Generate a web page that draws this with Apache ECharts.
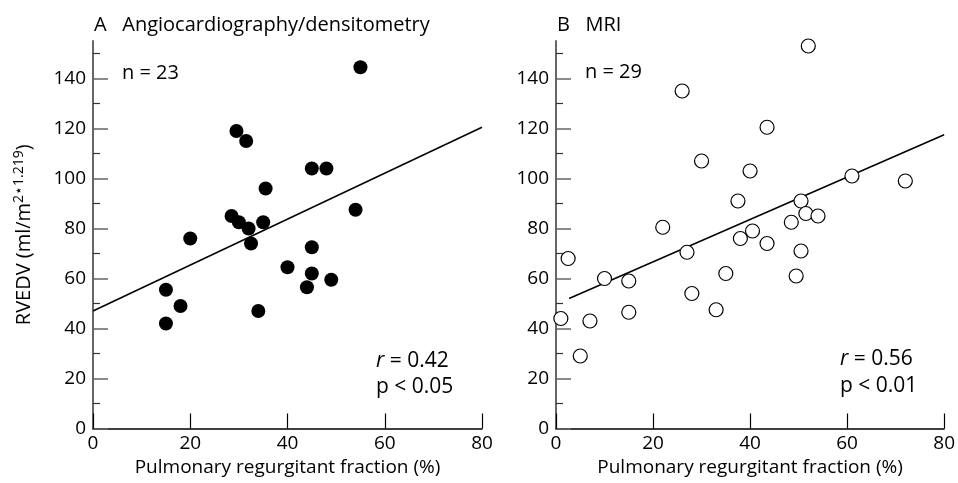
<!DOCTYPE html>
<html>
<head>
<meta charset="utf-8">
<script src="https://cdn.jsdelivr.net/npm/echarts@6/dist/echarts.min.js"></script>
<style>
  html, body { margin: 0; padding: 0; background: #fff; }
  #chart { width: 958px; height: 483px; }
</style>
</head>
<body>
<div id="chart"></div>
<script>
// panel A: angiocardiography / densitometry (x = PRF %, y = RVEDV)
var angioPoints = [
  [55, 144.5], [29.5, 119], [31.5, 115], [45, 104], [48, 104], [35.5, 96],
  [54, 87.5], [28.5, 85], [30, 82.5], [32, 80], [35, 82.5], [20, 76],
  [32.5, 74], [45, 72.5], [40, 64.5], [45, 62], [49, 59.5], [44, 56.5],
  [15, 55.5], [18, 49], [15, 42], [34, 47]
];
var angioFit = [[0, 47], [80, 120.5]];

// panel B: MRI
var mriPoints = [
  [52, 153], [26, 135], [43.5, 120.5], [30, 107], [40, 103], [61, 101],
  [72, 99], [37.5, 91], [50.5, 91], [51.5, 86], [54, 85], [48.5, 82.5],
  [22, 80.5], [40.5, 79], [38, 76], [43.5, 74], [50.5, 71], [27, 70.5],
  [2.5, 68], [35, 62], [49.5, 61], [10, 60], [15, 59], [28, 54],
  [15, 46.5], [33, 47.5], [1, 44], [7, 43], [5, 29]
];
var mriFit = [[2.7, 52], [80, 117.5]];

var yMajor = [0, 20, 40, 60, 80, 100, 120, 140];
var yMinor = [10, 30, 50, 70, 90, 110, 130, 150];

var FONT = 'Open Sans';
var chart = echarts.init(document.getElementById('chart'));

function xAxisFor(gridIndex) {
  return {
    type: 'value', gridIndex: gridIndex, min: 0, max: 80, interval: 20,
    name: 'Pulmonary regurgitant fraction (%)', nameLocation: 'middle', nameGap: 29,
    nameTextStyle: { color: '#000', fontSize: 19, fontFamily: FONT },
    axisLine: { lineStyle: { color: '#000', width: 1.5 } },
    axisTick: { inside: true, length: 15, lineStyle: { color: '#000', width: 1.2 } },
    axisLabel: { color: '#000', fontSize: 19, fontFamily: FONT, margin: 6, showMinLabel: true, showMaxLabel: true },
    splitLine: { show: false }
  };
}

function yMajorAxis(gridIndex, withName) {
  var ax = {
    type: 'value', gridIndex: gridIndex, position: 'left', min: 0, max: 155,
    axisLine: { show: true, lineStyle: { color: '#666', width: 2 } },
    axisTick: { inside: true, length: 15, customValues: yMajor, lineStyle: { color: '#666', width: 1.5 } },
    axisLabel: { color: '#000', fontSize: 19, fontFamily: FONT, margin: 7, customValues: yMajor },
    splitLine: { show: false }
  };
  if (withName) {
    ax.name = '{t|RVEDV (ml/m}{s|2\u22C61.219}{t|)}';
    ax.nameLocation = 'middle';
    ax.nameGap = 57;
    ax.nameTextStyle = {
      rich: {
        t: { fontSize: 20, fontFamily: FONT, color: '#000' },
        s: { fontSize: 14, fontFamily: FONT, color: '#000', verticalAlign: 'top', padding: [0, 0, 10, 0] }
      }
    };
  }
  return ax;
}

function yMinorAxis(gridIndex) {
  return {
    type: 'value', gridIndex: gridIndex, position: 'left', offset: 0, min: 0, max: 155,
    axisLine: { show: false },
    axisTick: { show: true, inside: true, length: 7, customValues: yMinor, lineStyle: { color: '#333', width: 1.2 } },
    axisLabel: { show: false },
    splitLine: { show: false }
  };
}

function txt(x, y, text, size, rich) {
  return {
    type: 'text', x: x, y: y,
    style: { text: text, fontSize: size, fontFamily: FONT, fill: '#000', verticalAlign: 'middle', rich: rich || {} }
  };
}

var italicR = { i: { fontStyle: 'italic', fontSize: 21, fontFamily: FONT, fill: '#000' } };

var option = {
  backgroundColor: '#fff',
  animation: false,
  grid: [
    { left: 93, top: 41, width: 389, height: 387.5 },
    { left: 556, top: 41, width: 390, height: 387.5 }
  ],
  xAxis: [xAxisFor(0), xAxisFor(1)],
  yAxis: [yMajorAxis(0, true), yMinorAxis(0), yMajorAxis(1, false), yMinorAxis(1)],
  graphic: [
    txt(94, 25, 'A   Angiocardiography/densitometry', 20),
    txt(557, 25, 'B   MRI', 20),
    txt(122, 73, 'n = 23', 20),
    txt(585, 72, 'n = 29', 20),
    txt(376, 361, '{i|r} = 0.42', 21, italicR),
    txt(376, 387, 'p < 0.05', 21),
    txt(840, 359, '{i|r} = 0.56', 21, italicR),
    txt(840, 386, 'p < 0.01', 21)
  ],
  series: [
    {
      type: 'line', xAxisIndex: 0, yAxisIndex: 0, data: angioFit, symbol: 'none',
      lineStyle: { color: '#000', width: 1.5 }, z: 1
    },
    {
      type: 'line', xAxisIndex: 1, yAxisIndex: 2, data: mriFit, symbol: 'none',
      lineStyle: { color: '#000', width: 1.5 }, z: 1
    },
    {
      type: 'scatter', xAxisIndex: 0, yAxisIndex: 0, data: angioPoints,
      symbol: 'circle', symbolSize: 14, itemStyle: { color: '#000', opacity: 1 }, z: 3
    },
    {
      type: 'scatter', xAxisIndex: 1, yAxisIndex: 2, data: mriPoints,
      symbol: 'circle', symbolSize: 14,
      itemStyle: { color: '#fff', borderColor: '#000', borderWidth: 1.2, opacity: 1 }, z: 3
    }
  ]
};

chart.setOption(option);
</script>
</body>
</html>
